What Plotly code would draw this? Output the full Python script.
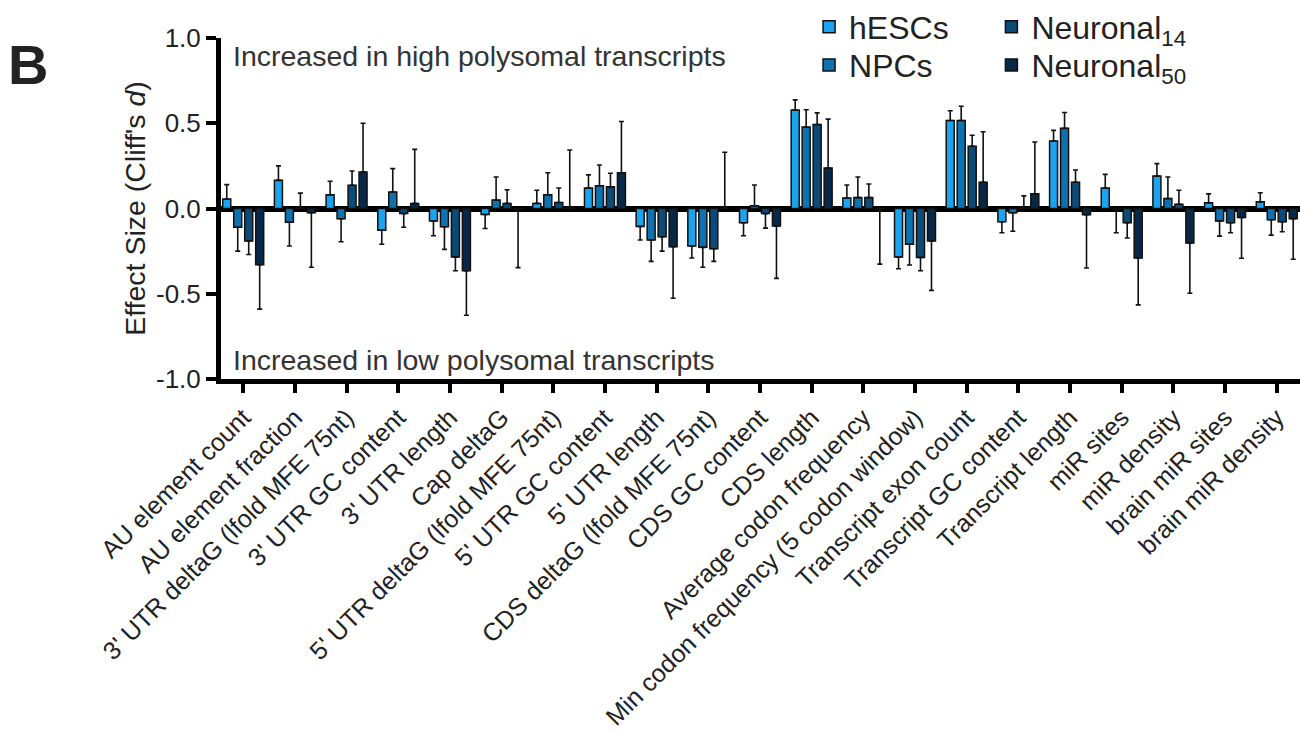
import plotly.graph_objects as go

categories = [
    "AU element count", "AU element fraction", "3' UTR deltaG (lfold MFE 75nt)",
    "3' UTR GC content", "3' UTR length", "Cap deltaG", "5' UTR deltaG (lfold MFE 75nt)",
    "5' UTR GC content", "5' UTR length", "CDS deltaG (lfold MFE 75nt)", "CDS GC content",
    "CDS length", "Average codon frequency", "Min codon frequency (5 codon window)",
    "Transcript exon count", "Transcript GC content", "Transcript length", "miR sites",
    "miR density", "brain miR sites", "brain miR density",
]

hesc = [0.055, 0.165, 0.08, -0.127, -0.074, -0.035, 0.03, 0.12, -0.105, -0.22, -0.084,
        0.577, 0.062, -0.285, 0.516, -0.078, 0.396, 0.12, 0.19, 0.033, 0.039]
hesc_ci = [0.14, 0.25, 0.16, -0.21, -0.16, -0.117, 0.107, 0.197, -0.185, -0.29, -0.16,
           0.637, 0.138, -0.353, 0.573, -0.142, 0.458, 0.2, 0.263, 0.086, 0.092]
npc = [-0.11, -0.08, -0.06, 0.097, -0.107, 0.05, 0.08, 0.133, -0.185, -0.228, 0.016,
       0.478, 0.064, -0.21, 0.516, -0.025, 0.47, -0.005, 0.058, -0.074, -0.066]
npc_ci = [-0.25, -0.22, -0.195, 0.234, -0.24, 0.185, 0.21, 0.255, -0.31, -0.345, 0.138,
          0.579, 0.185, -0.331, 0.6, -0.133, 0.563, -0.142, 0.185, -0.162, -0.156]
n14 = [-0.19, 0.002, 0.136, -0.03, -0.285, 0.03, 0.035, 0.127, -0.166, -0.236, -0.03,
       0.493, 0.064, -0.287, 0.365, 0.002, 0.154, -0.084, 0.025, -0.084, -0.078]
n14_ci = [-0.27, 0.09, 0.22, -0.11, -0.365, 0.11, 0.12, 0.207, -0.25, -0.31, -0.115,
          0.561, 0.144, -0.365, 0.43, 0.074, 0.226, -0.173, 0.107, -0.142, -0.136]
n50 = [-0.33, -0.025, 0.214, 0.03, -0.365, -0.003, 0.002, 0.21, -0.224, 0.002, -0.103,
       0.238, -0.002, -0.19, 0.154, 0.086, -0.037, -0.29, -0.203, -0.053, -0.06]
n50_ci = [-0.59, -0.345, 0.50, 0.347, -0.626, -0.347, 0.343, 0.51, -0.526, 0.33, -0.41,
          0.524, -0.326, -0.48, 0.45, 0.39, -0.349, -0.565, -0.497, -0.292, -0.298]

series_names = ["hESCs", "NPCs", "Neuronal<sub>14</sub>", "Neuronal<sub>50</sub>"]
series_vals = [hesc, npc, n14, n50]
series_ci = [hesc_ci, npc_ci, n14_ci, n50_ci]
colors = ["#1AA3EE", "#0E72B0", "#0C4B78", "#082848"]
legend_ids = ["legend", "legend2", "legend3", "legend4"]

FONT = "Liberation Sans, Arial, Helvetica, sans-serif"
TXT = "#222222"

fig = go.Figure()
for name, vals, ci, col, lg in zip(series_names, series_vals, series_ci, colors, legend_ids):
    plus = [max(c - v, 0) for v, c in zip(vals, ci)]
    minus = [max(v - c, 0) for v, c in zip(vals, ci)]
    fig.add_trace(go.Bar(
        x=list(range(len(categories))), y=vals, name=name, legend=lg,
        marker=dict(color=col, line=dict(color="#111111", width=1.5)),
        error_y=dict(type="data", symmetric=False, array=plus, arrayminus=minus,
                     color="#111111", thickness=1.6, width=2.5),
    ))

def leg(x, y):
    return dict(x=x, y=y, xanchor="left", yanchor="top",
                font=dict(size=32, color=TXT), bgcolor="rgba(0,0,0,0)")

fig.update_layout(
    width=1300, height=733,
    margin=dict(l=221, r=0, t=38, b=354, autoexpand=False),
    paper_bgcolor="white", plot_bgcolor="white",
    font=dict(family=FONT, color=TXT, size=24),
    barmode="group", bargap=0.15, bargroupgap=0.27,
    showlegend=True,
    legend=leg(0.545, 1.113),
    legend2=leg(0.545, 1.001),
    legend3=leg(0.714, 1.113),
    legend4=leg(0.714, 1.001),
    xaxis=dict(
        range=[-0.43, 20.45], tickmode="array",
        tickvals=list(range(len(categories))), ticktext=categories,
        tickangle=-45, tickfont=dict(size=25, color=TXT),
        showline=True, linecolor="black", linewidth=5,
        ticks="outside", ticklen=9, tickwidth=4, tickcolor="black",
        showgrid=False, zeroline=False, automargin=False,
    ),
    yaxis=dict(
        range=[-1, 1], tickmode="array",
        tickvals=[-1, -0.5, 0, 0.5, 1], ticktext=["-1.0", "-0.5", "0.0", "0.5", "1.0"],
        tickfont=dict(size=26, color=TXT),
        showline=True, linecolor="black", linewidth=5,
        ticks="outside", ticklen=10, tickwidth=4, tickcolor="black",
        showgrid=False, zeroline=True, zerolinecolor="black", zerolinewidth=5.5,
        title=dict(text="Effect Size (Cliff's <i>d</i>)", font=dict(size=28.5, color=TXT),
                   standoff=4),
        automargin=False,
    ),
    annotations=[
        dict(text="Increased in high polysomal transcripts", xref="paper", yref="paper",
             x=0.009, y=0.947, xanchor="left", yanchor="middle", showarrow=False,
             font=dict(size=28.5, color="#333333")),
        dict(text="Increased in low polysomal transcripts", xref="paper", yref="paper",
             x=0.009, y=0.056, xanchor="left", yanchor="middle", showarrow=False,
             font=dict(size=28.5, color="#333333")),
        dict(text="<b>B</b>", xref="paper", yref="paper",
             x=-0.179, y=0.921, xanchor="center", yanchor="middle", showarrow=False,
             font=dict(size=56, color="#222222")),
    ],
)

fig.write_html("out.html", post_script="document.body.style.margin='0';",
               config={"displayModeBar": False})
